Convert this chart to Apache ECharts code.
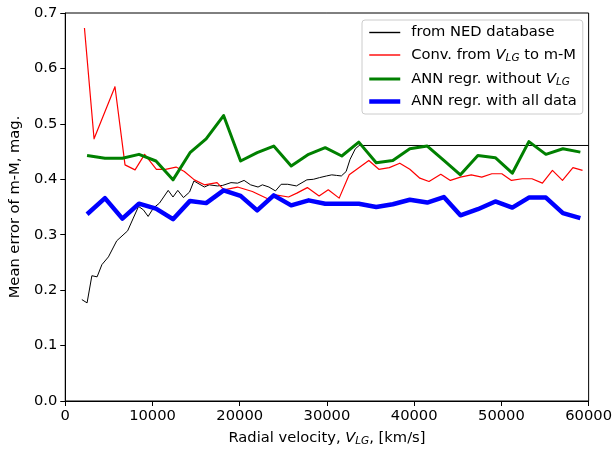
<!DOCTYPE html>
<html>
<head>
<meta charset="utf-8">
<script src="https://cdn.jsdelivr.net/npm/echarts@6/dist/echarts.min.js"></script>
<style>
html, body { margin: 0; padding: 0; background: #fff; }
#chart { width: 615px; height: 452px; }
</style>
</head>
<body>
<div id="chart"></div>
<script>
// from NED database
const nedX = [1900, 2500, 3050, 3650, 4200, 4950, 5900, 7150, 7800, 8400, 8950, 9500, 10100, 10800, 11800,
    12350, 12900, 13550, 14250, 14750, 15950, 16500, 17450, 18050, 19000, 19750, 20500, 21250, 22100, 22600,
    23350, 24100, 24750, 25500, 26500, 27700, 28450, 29150, 29950, 30550, 31100, 31650, 32200, 32650, 33250,
    33700, 60000];
const nedY = [0.183, 0.177, 0.226, 0.224, 0.246, 0.260, 0.289, 0.307, 0.330, 0.351, 0.345, 0.333, 0.348, 0.357, 0.380,
    0.368, 0.380, 0.367, 0.377, 0.397, 0.386, 0.390, 0.388, 0.389, 0.394, 0.393, 0.398, 0.390, 0.386, 0.390,
    0.386, 0.379, 0.391, 0.391, 0.388, 0.399, 0.400, 0.403, 0.406, 0.408, 0.407, 0.406, 0.414, 0.436, 0.455,
    0.461, 0.461];

// conversion from V_LG
const convX = [2200, 3300, 5700, 6850, 8000, 9100, 10450, 11500, 12700, 13650, 14800, 15950, 17400, 18200, 19750,
    21450, 23200, 24100, 25600, 26550, 27750, 29100, 30150, 31400, 32550, 34800, 35950, 37150, 38350, 39500,
    40650, 41700, 43050, 44150, 45300, 46550, 47750, 48900, 50050, 51150, 52400, 53500, 54700, 55850, 57000,
    58200, 59300];
const convY = [0.673, 0.473, 0.567, 0.426, 0.417, 0.445, 0.418, 0.418, 0.422, 0.414, 0.399, 0.390, 0.394, 0.381, 0.386,
    0.378, 0.365, 0.372, 0.368, 0.375, 0.385, 0.370, 0.381, 0.366, 0.408, 0.434, 0.418, 0.421, 0.429, 0.418,
    0.402, 0.396, 0.409, 0.398, 0.404, 0.408, 0.404, 0.410, 0.410, 0.398, 0.401, 0.401, 0.393, 0.416, 0.398,
    0.421, 0.416];

// ANN bins
const annX = [2500, 4550, 6550, 8450, 10400, 12350, 14300, 16150, 18150, 20100, 22000, 23900, 25900, 27900, 29800,
    31700, 33650, 35650, 37550, 39500, 41500, 43400, 45300, 47300, 49300, 51250, 53150, 55100, 57050, 59050];
const annNoVY = [0.443, 0.438, 0.438, 0.445, 0.433, 0.399, 0.448, 0.473, 0.515, 0.433, 0.448, 0.460, 0.424, 0.445, 0.457,
    0.442, 0.467, 0.430, 0.434, 0.455, 0.460, 0.434, 0.408, 0.443, 0.439, 0.411, 0.468, 0.445, 0.455, 0.449];
const annAllY = [0.337, 0.366, 0.329, 0.356, 0.347, 0.328, 0.361, 0.357, 0.380, 0.370, 0.344, 0.371, 0.353, 0.362, 0.356,
    0.356, 0.356, 0.350, 0.355, 0.363, 0.358, 0.368, 0.335, 0.346, 0.360, 0.349, 0.367, 0.367, 0.339, 0.330];

const FONT = 'DejaVu Sans';
const FS = 14.7;
const zip = (xs, ys) => xs.map((x, i) => [x, ys[i]]);

const rich = {
    t: { fontFamily: FONT, fontSize: FS, color: '#000', lineHeight: 16 },
    i: { fontFamily: FONT, fontSize: FS, color: '#000', fontStyle: 'italic', lineHeight: 16 },
    // subscript: pushed down by top padding
    sub: { fontFamily: FONT, fontSize: 10.5, color: '#000', fontStyle: 'italic', lineHeight: 9, padding: [7, 0, 0, 0] },
};
// V_LG -> rich text with subscript
const withSub = (s) => s.split('V_LG').map((part) => (part ? `{t|${part}}` : '')).join('{i|V}{sub|LG}');

const chart = echarts.init(document.getElementById('chart'), null, { renderer: 'canvas' });

const lines = [
    { name: 'from NED database', color: '#000000', width: 1, legendWidth: 1.4, data: zip(nedX, nedY) },
    { name: 'Conv. from V_LG to m-M', color: '#ff0000', width: 1.2, legendWidth: 1.4, data: zip(convX, convY) },
    { name: 'ANN regr. without V_LG', color: '#008000', width: 3, legendWidth: 3, data: zip(annX, annNoVY) },
    { name: 'ANN regr. with all data', color: '#0000ff', width: 4.5, legendWidth: 4.5, data: zip(annX, annAllY) },
];

const series = lines.map((s) => ({
    name: s.name,
    type: 'line',
    symbol: 'none',
    data: s.data,
    itemStyle: { color: s.color },
    lineStyle: { color: s.color, width: s.width, join: 'round' },
}));

const option = {
    backgroundColor: '#fff',
    animation: false,
    grid: {
        left: 63,
        right: 24,
        top: 13,
        bottom: 47,
        show: true,
        borderColor: '#000',
        borderWidth: 1,
        backgroundColor: 'transparent',
    },
    legend: {
        orient: 'vertical',
        left: 362,
        top: 20,
        padding: [5, 6, 5, 5],
        itemWidth: 31,
        itemHeight: 14,
        itemGap: 6,
        borderColor: '#cccccc',
        borderWidth: 1,
        borderRadius: 3,
        backgroundColor: 'rgba(255,255,255,0.8)',
        itemStyle: { opacity: 0, borderWidth: 0 },
        data: lines.map((s) => ({
            name: s.name,
            lineStyle: { color: s.color, width: s.legendWidth },
        })),
        textStyle: { fontFamily: FONT, fontSize: FS, color: '#000', padding: [0, 0, 0, 6], rich },
        formatter: withSub,
    },
    xAxis: {
        type: 'value',
        min: 0,
        max: 60000,
        interval: 10000,
        name: withSub('Radial velocity, V_LG, [km/s]'),
        nameLocation: 'middle',
        nameGap: 29,
        nameTextStyle: { fontFamily: FONT, fontSize: FS, color: '#000', rich },
        axisLine: { lineStyle: { color: '#000', width: 1 } },
        axisTick: { show: true, length: 5, lineStyle: { color: '#000' } },
        axisLabel: { fontFamily: FONT, fontSize: FS, color: '#000', margin: 8, formatter: (v) => String(v) },
        splitLine: { show: false },
    },
    yAxis: {
        type: 'value',
        min: 0,
        max: 0.7,
        interval: 0.1,
        name: 'Mean error of m-M, mag.',
        nameLocation: 'middle',
        nameGap: 38,
        nameTextStyle: { fontFamily: FONT, fontSize: FS, color: '#000' },
        axisLine: { show: true, lineStyle: { color: '#000', width: 1 } },
        axisTick: { show: true, length: 5, lineStyle: { color: '#000' } },
        axisLabel: { fontFamily: FONT, fontSize: FS, color: '#000', margin: 8, formatter: (v) => v.toFixed(1) },
        splitLine: { show: false },
    },
    series,
};

chart.setOption(option);
window.addEventListener('resize', () => {
    chart.resize();
});
</script>
</body>
</html>
